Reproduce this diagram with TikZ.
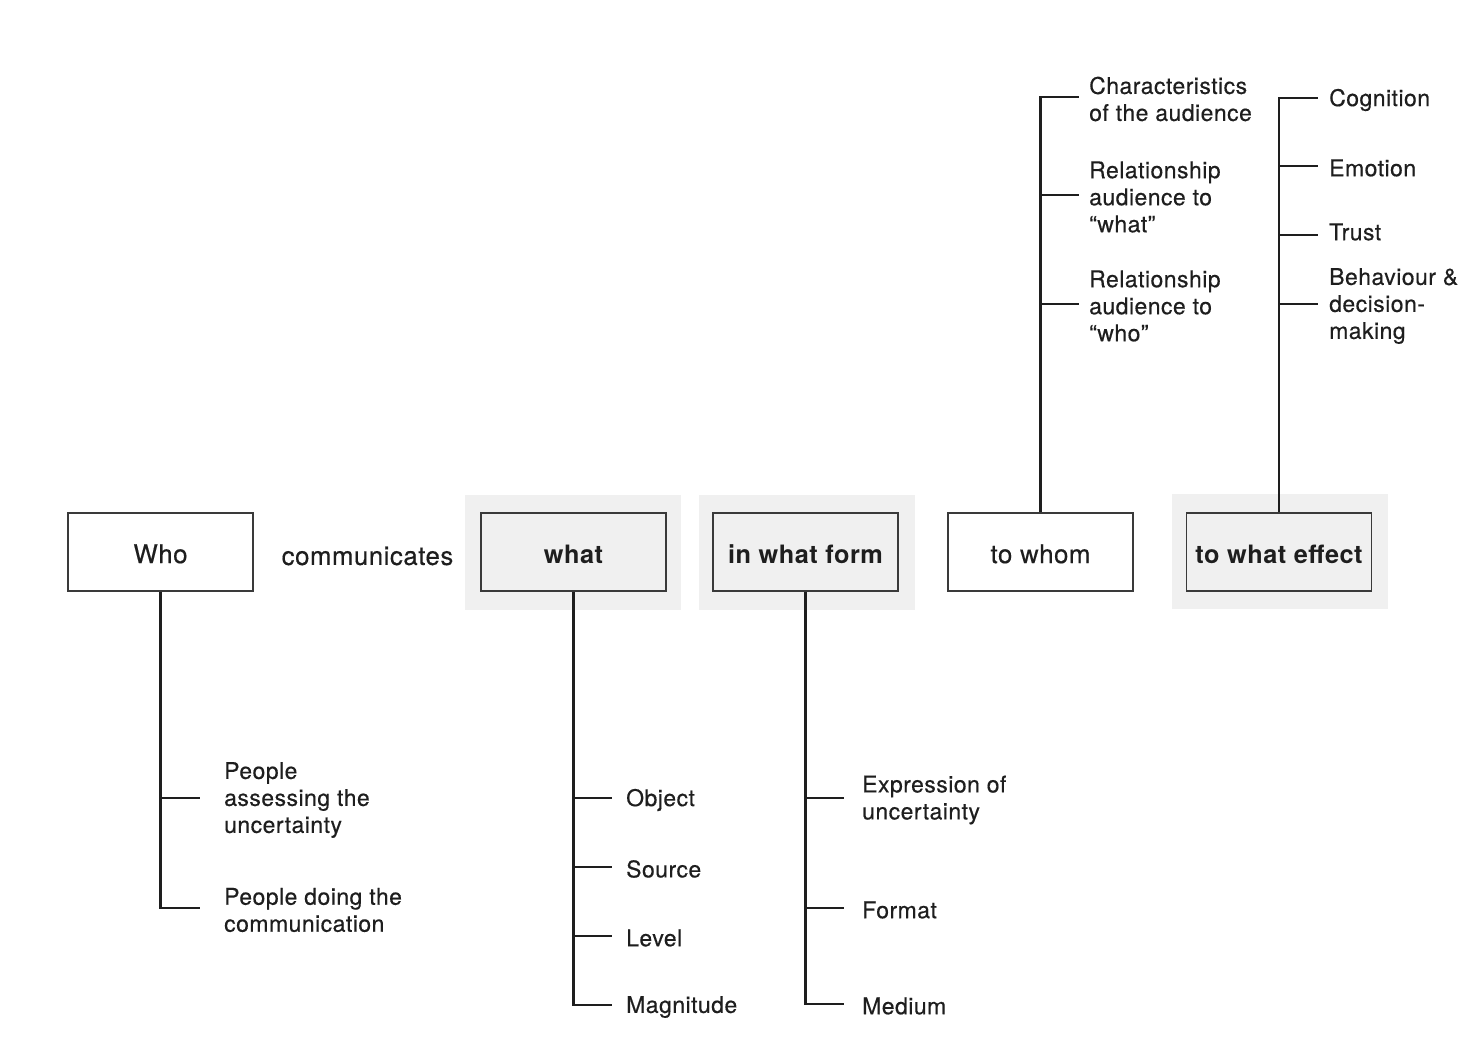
\documentclass[tikz,border=0pt]{standalone}
\usepackage{fontspec}
\setmainfont{TeX Gyre Heros}[LetterSpace=2, FakeBold=0.4, BoldFeatures={FakeBold=0}]
\definecolor{bgc}{HTML}{F0F0F0}
\definecolor{boxc}{HTML}{3A3A3A}
\definecolor{txt}{HTML}{1E1E1E}
\begin{document}
\begin{tikzpicture}[x=1pt,y=-1pt,
 box/.style={draw=boxc, line width=1.4pt, minimum width=185pt, minimum height=78pt, inner sep=0pt, text height=22.6pt, text depth=0.4pt, font=\fontsize{25.8}{30}\selectfont, text=txt},
 hl/.style={box, fill=bgc, font=\fontsize{25.3}{30}\selectfont\bfseries},
 bgbox/.style={fill=bgc, draw=none, minimum width=216pt, minimum height=115pt, inner sep=0pt},
 leaf/.style={anchor=west, inner sep=0pt, align=left, font=\fontsize{23}{27}\selectfont, text=txt},
 tree/.style={line width=2.7pt, draw=txt}]
\useasboundingbox (0,0) rectangle (1482,1038);

% backgrounds
\node[bgbox] (bg1) at (573,552.5) {};
\node[bgbox] (bg2) at (807,552.5) {};
\node[bgbox] (bg3) at (1279.5,551) {};

% main boxes
\node[box] (who) at (160.5,552) {Who};
\node[font=\fontsize{25.8}{30}\selectfont, text=txt, inner sep=0pt] (comm) at (367.5,556) {communicates};
\node[hl] (what) at (573.5,552) {what};
\node[hl] (form) at (805.5,552) {in what form};
\node[box] (whom) at (1040.5,552) {to whom};
\node[hl] (effect) at (1279,552) {to what effect};

% Who leaves (text sits 2px below its branch)
\node[leaf] (w1) at (224,800) {People\\assessing the\\uncertainty};
\node[leaf] (w2) at (224,910) {People doing the\\communication};
\draw[tree] ([yshift=2pt]who.south |- w1.west) -- ([xshift=-24pt,yshift=2pt]w1.west);
\draw[tree] (who.south) |- ([xshift=-24pt,yshift=2pt]w2.west);

% what leaves
\node[leaf] (a1) at (626,800) {Object};
\node[leaf] (a2) at (626,869) {Source};
\node[leaf] (a3) at (626,938) {Level};
\node[leaf] (a4) at (626,1007) {Magnitude};
\foreach \n in {a1,a2,a3}{\draw[tree] ([yshift=2pt]what.south |- \n.west) -- ([xshift=-14pt,yshift=2pt]\n.west);}
\draw[tree] (what.south) |- ([xshift=-14pt,yshift=2pt]a4.west);

% form leaves
\node[leaf] (f1) at (862,800) {Expression of\\uncertainty};
\node[leaf] (f2) at (862,910) {Format};
\node[leaf] (f3) at (862,1006) {Medium};
\foreach \n in {f1,f2}{\draw[tree] ([yshift=2pt]form.south |- \n.west) -- ([xshift=-18pt,yshift=2pt]\n.west);}
\draw[tree] (form.south) |- ([xshift=-18pt,yshift=2pt]f3.west);

% whom leaves
\node[leaf] (t1) at (1089,99) {Characteristics\\of the audience};
\node[leaf] (t2) at (1089,197) {Relationship\\audience to\\“what"};
\node[leaf] (t3) at (1089,306) {Relationship\\audience to\\“who”};
\foreach \n in {t2,t3}{\draw[tree] ([yshift=2pt]whom.north |- \n.west) -- ([xshift=-10pt,yshift=2pt]\n.west);}
\draw[tree] (whom.north) |- ([xshift=-10pt,yshift=2pt]t1.west);

% effect leaves
\node[leaf] (e1) at (1329,100) {Cognition};
\node[leaf] (e2) at (1329,168) {Emotion};
\node[leaf] (e3) at (1329,232) {Trust};
\node[leaf] (e4) at (1329,306) {Behaviour \&\\decision-\\making};
\coordinate (e3b) at (1329,235);
\foreach \n in {e2,e4}{\draw[tree] ([yshift=2pt]effect.north |- \n.west) -- ([xshift=-11pt,yshift=2pt]\n.west);}
\draw[tree] (effect.north |- e3b) -- ([xshift=-11pt]e3b);
\draw[tree] (effect.north) |- ([xshift=-11pt,yshift=2pt]e1.west);
\end{tikzpicture}
\end{document}
